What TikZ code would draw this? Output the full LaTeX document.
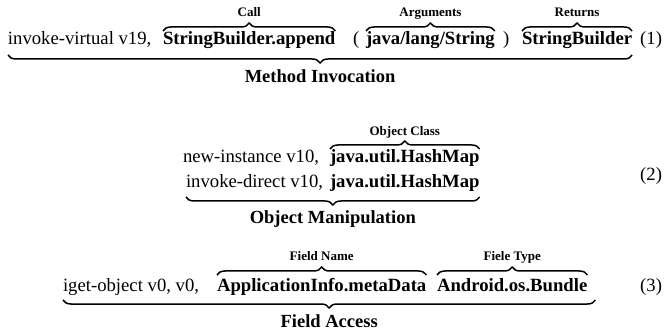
\documentclass[tikz,border=0pt]{standalone}
\usepackage{fontspec}
\setmainfont{Liberation Serif}
\usetikzlibrary{decorations.pathreplacing,calc}
\begin{document}
\begin{tikzpicture}[x=1pt,y=-1pt,
  every node/.style={inner sep=0pt,outer sep=0pt},
  code/.style={anchor=base west,font=\fontsize{18.7}{22}\selectfont},
  ident/.style={anchor=base west,font=\fontsize{18.7}{22}\selectfont\bfseries},
  tag/.style={anchor=base,font=\fontsize{13}{15}\selectfont\bfseries},
  group/.style={anchor=base,font=\fontsize{18.5}{22}\selectfont\bfseries},
  eqno/.style={anchor=base east,font=\fontsize{18.7}{22}\selectfont},
  obrace/.style={decorate,decoration={brace,amplitude=8pt},line width=1.5pt},
  ubrace/.style={decorate,decoration={brace,mirror,amplitude=8pt},line width=1.5pt}]
\useasboundingbox (0,0) rectangle (667,331);

% (1) method invocation
\node[code]  (l1op)   at (8,45)   {invoke-virtual v19,};
\node[ident] (l1call) at (163,45) {StringBuilder.append};
\node[code]  (l1lp)   at (353,45) {(};
\node[ident] (l1arg)  at (366,45) {java/lang/String};
\node[code]  (l1rp)   at (503,45) {)};
\node[ident] (l1ret)  at (522,45) {StringBuilder};
\node[eqno]  (eq1)    at (662,45) {(1)};

\draw[obrace] (l1call.west |- 0,31) -- (l1call.east |- 0,31);
\draw[obrace] (l1arg.west |- 0,31) -- (l1arg.east |- 0,31);
\draw[obrace] (l1ret.west |- 0,31) -- (l1ret.east |- 0,31);
\node[tag] (t1call) at (l1call.base |- 0,17) {Call};
\node[tag] (t1arg)  at (l1arg.base |- 0,17)  {Arguments};
\node[tag] (t1ret)  at (l1ret.base |- 0,17)  {Returns};

\draw[ubrace] (l1op.west |- 0,55) -- (l1ret.east |- 0,55);
\coordinate (m1) at ($(l1op.west)!0.5!(l1ret.east)$);
\node[group] (g1) at (m1 |- 0,83) {Method Invocation};

% (2) object manipulation
\node[code]  (l2a)    at (183,163) {new-instance v10,};
\node[ident] (l2acls) at (330,163) {java.util.HashMap};
\node[code]  (l2b)    at (186,188) {invoke-direct v10,};
\node[ident] (l2bcls) at (330,188) {java.util.HashMap};
\node[eqno]  (eq2)    at (662,181) {(2)};

\draw[obrace] (l2acls.west |- 0,149) -- (l2acls.east |- 0,149);
\node[tag] (t2cls) at (l2acls.base |- 0,136) {Object Class};

\draw[ubrace] (l2b.west |- 0,197) -- (l2bcls.east |- 0,197);
\coordinate (m2) at ($(l2b.west)!0.5!(l2bcls.east)$);
\node[group] (g2) at (m2 |- 0,224) {Object Manipulation};

% (3) field access
\node[code]  (l3op)  at (63,291)  {iget-object v0, v0,};
\node[ident] (l3fld) at (217,291) {ApplicationInfo.metaData};
\node[ident] (l3typ) at (437,291) {Android.os.Bundle};
\node[eqno]  (eq3)   at (662,291) {(3)};

\draw[obrace] (l3fld.west |- 0,275) -- (l3fld.east |- 0,275);
\draw[obrace] (l3typ.west |- 0,275) -- (l3typ.east |- 0,275);
\node[tag] (t3fld) at (l3fld.base |- 0,261) {Field Name};
\node[tag] (t3typ) at (l3typ.base |- 0,261) {Fiele Type};

\draw[ubrace] (l3op.west |- 0,300) -- ([xshift=8pt]l3typ.east |- 0,300);
\coordinate (m3) at ($(l3op.west)!0.5!([xshift=8pt]l3typ.east)$);
\node[group] (g3) at (m3 |- 0,327) {Field Access};
\end{tikzpicture}
\end{document}
